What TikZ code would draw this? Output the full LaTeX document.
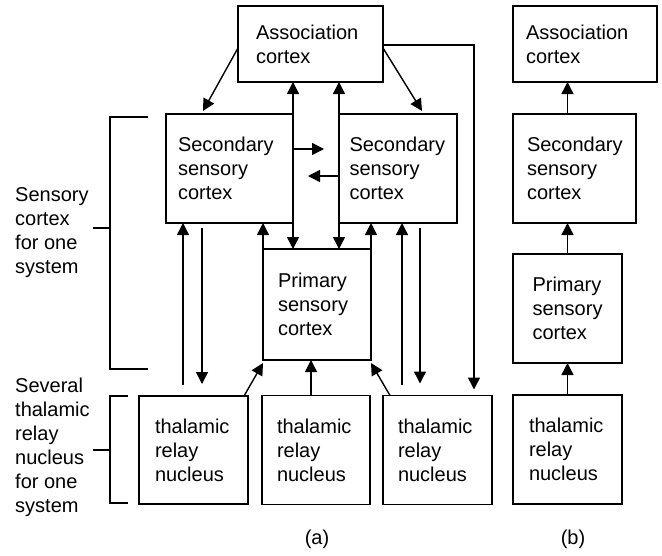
\documentclass[tikz,border=0pt]{standalone}
\usepackage{fontspec}
\setmainfont{Liberation Sans}
\usetikzlibrary{positioning, arrows.meta}

\begin{document}
\begin{tikzpicture}[x=1pt, y=-1pt,
      node distance = 14pt,
      box/.style = {draw, line width=1.4pt, align=left, inner sep=0pt, outer sep=0pt,
                    font=\fontsize{20pt}{24pt}\selectfont},
      lbl/.style = {align=left, inner sep=0pt, font=\fontsize{20pt}{24pt}\selectfont},
      arr/.style = {-{Triangle[length=12pt, width=12pt]}, line width=1.4pt},
      dbl/.style = {{Triangle[length=12pt, width=12pt]}-{Triangle[length=12pt, width=12pt]},
                    line width=1.4pt},
      brk/.style = {line width=1.4pt}]
    \useasboundingbox (0,0) rectangle (662,555);
    % (a): cortex of one system
    \node[box, minimum width=145pt, minimum height=76pt, text width=109pt]
         (assocA) at (310.5,44) {Association\\cortex};
    \node[box, minimum width=127pt, minimum height=109pt, text width=103pt]
         (secL) at (229.5,168.5) {Secondary\\sensory\\cortex};
    \node[box, minimum width=118pt, minimum height=109pt, text width=97pt]
         (secR) at (398,168.5) {Secondary\\sensory\\cortex};
    \node[box, minimum width=108pt, minimum height=111pt, text width=78pt]
         (prim) at (317,304.5) {Primary\\sensory\\cortex};
    % thalamic row
    \node[box, minimum width=109pt, minimum height=108pt, text width=77pt]
         (thL) at (193.5,450) {thalamic\\relay\\nucleus};
    \node[box, minimum width=108pt, minimum height=109pt, text width=78pt, right=of thL]
         (thM) {thalamic\\relay\\nucleus};
    \node[box, minimum width=109pt, minimum height=109pt, text width=79pt, right=13pt of thM]
         (thR) {thalamic\\relay\\nucleus};
    % (b): the simple chain
    \node[box, minimum width=144pt, minimum height=76pt, text width=118pt]
         (assocB) at (585,44) {Association\\cortex};
    \node[box, minimum width=123pt, minimum height=109pt, text width=95pt,
          below right=32pt and 0pt of assocB.south west] (secB) {Secondary\\sensory\\cortex};
    \node[box, minimum width=109pt, minimum height=109pt, text width=70pt,
          below right=31pt and 0pt of secB.south west] (primB) {Primary\\sensory\\cortex};
    \node[box, minimum width=109pt, minimum height=109pt, text width=77pt,
          below right=32pt and 0pt of primB.south west] (thB) {thalamic\\relay\\nucleus};
    % side labels and brackets
    \node[lbl, anchor=west] (sensLbl)  at (15,233) {Sensory\\cortex\\for one\\system};
    \node[lbl, anchor=west] (relayLbl) at (15,447) {Several\\thalamic\\relay\\nucleus\\for one\\system};
    \draw[brk] (148,117) -| (110,369) -- (148,369);
    \draw[brk] (93,228) -- (110,228);
    \draw[brk] (128,396) -| (110,503) -- (128,503);
    \draw[brk] (93,450) -- (110,450);
    \node[lbl] (capA) at (317,539) {(a)};
    \node[lbl] (capB) at (573,539) {(b)};
    % connections in (a)
    \draw[arr] ([yshift=-4pt]assocA.west) -- ([xshift=37pt, yshift=3pt]secL.north west);
    \draw[arr] ([yshift=-4pt]assocA.east) -- ([xshift=-35pt, yshift=3pt]secR.north east);
    \draw[dbl] (secL.east |- assocA.south) -- (secL.east |- prim.north);
    \draw[dbl] (secR.west |- assocA.south) -- (secR.west |- prim.north);
    \draw[arr] ([yshift=19.5pt]secL.east) -- ++(31,0);
    \draw[arr] ([yshift=-7.5pt]secR.west) -- ++(-31,0);
    \draw[arr] (prim.north west) -- (prim.north west |- secL.south);
    \draw[arr] (prim.north east) -- (prim.north east |- secR.south);
    \draw[arr] ([xshift=-10.5pt, yshift=11pt]thL.north) -- ([xshift=-10.5pt]thL.north |- secL.south);
    \draw[arr] ([xshift=8.5pt, yshift=-5pt]thL.north |- secL.south) -- ([xshift=8.5pt, yshift=12pt]thL.north);
    \draw[arr] ([xshift=-35.5pt, yshift=11pt]thR.north) -- ([xshift=-35.5pt]thR.north |- secR.south);
    \draw[arr] ([xshift=-17.5pt, yshift=-5pt]thR.north |- secR.south) -- ([xshift=-17.5pt, yshift=12pt]thR.north);
    \draw[arr] ([yshift=-1pt]assocA.east) -| ([xshift=36.5pt, yshift=6pt]thR.north);
    \draw[arr] ([xshift=-4pt]thL.north east) -- ([yshift=-3pt]prim.south west);
    \draw[arr] ([xshift=7pt]thR.north west) -- ([yshift=-3pt]prim.south east);
    \draw[arr] ([xshift=-5pt]thM.north) -- ([xshift=-5pt]thM.north |- prim.south);
    % connections in (b)
    \draw[arr] (thB) -- (primB);
    \draw[arr] (primB.north) -- (primB.north |- secB.south);
    \draw[arr] (primB.north |- secB.north) -- (primB.north |- assocB.south);
  \end{tikzpicture}
\end{document}
